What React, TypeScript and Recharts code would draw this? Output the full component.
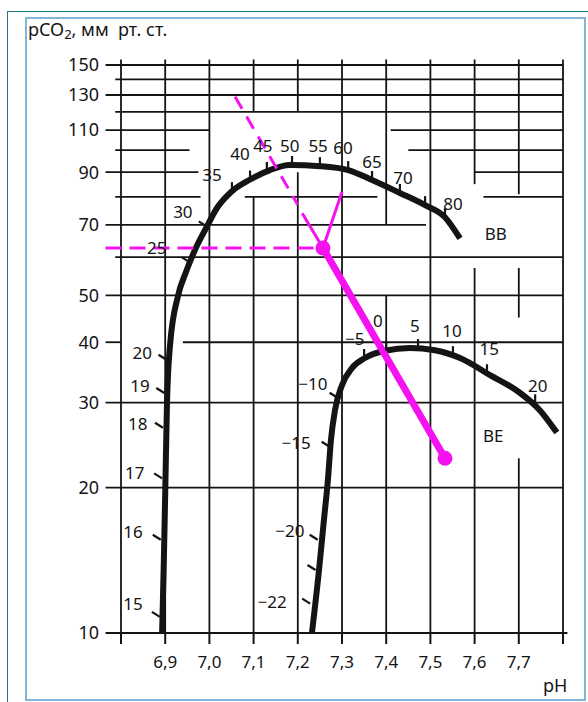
import {
  ComposedChart,
  Line,
  Scatter,
  XAxis,
  YAxis,
  ReferenceLine,
} from "recharts";

// pH axis and pCO2 axis ticks
const phTicks = [6.8, 6.9, 7.0, 7.1, 7.2, 7.3, 7.4, 7.5, 7.6, 7.7, 7.8];
const pco2Ticks = [10, 20, 30, 40, 50, 70, 90, 110, 130, 150];

// horizontal grid pieces: pCO2 level, pH from, pH to
const hGrid = [
  [150, 6.765, 7.8],
  [140, 6.787, 7.8],
  [130, 6.765, 7.8],
  [120, 6.787, 7.8],
  [110, 6.765, 7.0],
  [110, 7.41, 7.8],
  [100, 6.787, 6.955],
  [100, 7.45, 7.8],
  [90, 6.765, 6.975],
  [90, 7.6, 7.8],
  [80, 6.787, 6.98],
  [80, 7.08, 7.38],
  [80, 7.62, 7.8],
  [70, 6.765, 7.49],
  [60, 6.787, 7.8],
  [50, 6.765, 7.8],
  [40, 6.765, 6.8],
  [40, 6.94, 7.8],
  [30, 6.765, 7.8],
  [20, 6.765, 7.8],
  [10, 6.765, 7.81],
];

// vertical grid pieces: pH, pCO2 from, pCO2 to
const vGrid = [
  [6.8, 10, 154],
  [6.9, 10, 154],
  [7.0, 10, 154],
  [7.1, 120, 154],
  [7.1, 10, 80],
  [7.2, 120, 154],
  [7.2, 10, 90],
  [7.3, 10, 154],
  [7.4, 70, 154],
  [7.4, 10, 50],
  [7.5, 10, 154],
  [7.6, 85, 154],
  [7.6, 10, 57],
  [7.7, 81, 154],
  [7.7, 45, 57],
  [7.7, 10, 23],
  [7.8, 10, 154],
];

// buffer base curve
const bbCurve = [
  { ph: 6.893, pco2: 10 },
  { ph: 6.897, pco2: 14.2 },
  { ph: 6.9, pco2: 19.4 },
  { ph: 6.904, pco2: 29.8 },
  { ph: 6.911, pco2: 39.5 },
  { ph: 6.929, pco2: 49.9 },
  { ph: 6.947, pco2: 55.9 },
  { ph: 6.967, pco2: 62.0 },
  { ph: 6.992, pco2: 68.8 },
  { ph: 7.019, pco2: 76.3 },
  { ph: 7.051, pco2: 82.2 },
  { ph: 7.092, pco2: 86.9 },
  { ph: 7.137, pco2: 90.9 },
  { ph: 7.182, pco2: 93.1 },
  { ph: 7.25, pco2: 92.6 },
  { ph: 7.314, pco2: 90.9 },
  { ph: 7.368, pco2: 86.7 },
  { ph: 7.431, pco2: 81.5 },
  { ph: 7.488, pco2: 76.9 },
  { ph: 7.533, pco2: 72.6 },
  { ph: 7.567, pco2: 65.6 },
];

// base excess curve
const beCurve = [
  { ph: 7.232, pco2: 10 },
  { ph: 7.248, pco2: 13.5 },
  { ph: 7.259, pco2: 17.1 },
  { ph: 7.268, pco2: 20.7 },
  { ph: 7.275, pco2: 25.1 },
  { ph: 7.284, pco2: 28.9 },
  { ph: 7.3, pco2: 32.6 },
  { ph: 7.323, pco2: 35.4 },
  { ph: 7.352, pco2: 37.1 },
  { ph: 7.397, pco2: 38.4 },
  { ph: 7.454, pco2: 38.9 },
  { ph: 7.51, pco2: 38.5 },
  { ph: 7.567, pco2: 37.1 },
  { ph: 7.635, pco2: 34.2 },
  { ph: 7.703, pco2: 31.4 },
  { ph: 7.748, pco2: 28.9 },
  { ph: 7.786, pco2: 26.0 },
];

// scale marks on the curves (side: l = hook to the left, u = up)
const bbTicks = [
  { ph: 6.888, pco2: 10.8, side: "l" },
  { ph: 6.89, pco2: 15.6, side: "l" },
  { ph: 6.893, pco2: 20.9, side: "l" },
  { ph: 6.895, pco2: 26.6, side: "l" },
  { ph: 6.898, pco2: 31.4, side: "l" },
  { ph: 6.903, pco2: 36.8, side: "l" },
  { ph: 6.955, pco2: 58.6, side: "l" },
  { ph: 6.994, pco2: 69.5, side: "l" },
  { ph: 7.051, pco2: 82.2, side: "u" },
  { ph: 7.092, pco2: 86.9, side: "u" },
  { ph: 7.13, pco2: 90.5, side: "u" },
  { ph: 7.187, pco2: 93.1, side: "u" },
  { ph: 7.25, pco2: 92.6, side: "u" },
  { ph: 7.314, pco2: 90.9, side: "u" },
  { ph: 7.368, pco2: 86.7, side: "u" },
  { ph: 7.431, pco2: 81.5, side: "u" },
  { ph: 7.488, pco2: 76.9, side: "u" },
  { ph: 7.533, pco2: 72.6, side: "u" },
];

const beTicks = [
  { ph: 7.228, pco2: 11.5, side: "l" },
  { ph: 7.24, pco2: 13.5, side: "l" },
  { ph: 7.245, pco2: 15.6, side: "l" },
  { ph: 7.272, pco2: 24.3, side: "l" },
  { ph: 7.29, pco2: 30.7, side: "l" },
  { ph: 7.35, pco2: 37.1, side: "u" },
  { ph: 7.4, pco2: 38.4, side: "u" },
  { ph: 7.472, pco2: 38.9, side: "u" },
  { ph: 7.551, pco2: 37.6, side: "u" },
  { ph: 7.628, pco2: 34.5, side: "u" },
  { ph: 7.737, pco2: 29.9, side: "u" },
];

const bbLabels = [
  { ph: 6.827, pco2: 11.5, text: "15" },
  { ph: 6.827, pco2: 16.2, text: "16" },
  { ph: 6.831, pco2: 21.5, text: "17" },
  { ph: 6.838, pco2: 27.2, text: "18" },
  { ph: 6.843, pco2: 32.6, text: "19" },
  { ph: 6.848, pco2: 38.1, text: "20" },
  { ph: 6.881, pco2: 62.7, text: "25" },
  { ph: 6.94, pco2: 74.5, text: "30" },
  { ph: 7.006, pco2: 88.9, text: "35" },
  { ph: 7.069, pco2: 98.6, text: "40" },
  { ph: 7.121, pco2: 102.4, text: "45" },
  { ph: 7.182, pco2: 102.4, text: "50" },
  { ph: 7.246, pco2: 102.4, text: "55" },
  { ph: 7.302, pco2: 101, text: "60" },
  { ph: 7.368, pco2: 94.5, text: "65" },
  { ph: 7.438, pco2: 87.6, text: "70" },
  { ph: 7.551, pco2: 77.6, text: "80" },
  { ph: 7.648, pco2: 67.3, text: "BB" },
];

const beLabels = [
  { ph: 7.142, pco2: 11.6, text: "\u221222" },
  { ph: 7.182, pco2: 16.3, text: "\u221220" },
  { ph: 7.196, pco2: 24.8, text: "\u221215" },
  { ph: 7.234, pco2: 32.9, text: "\u221210" },
  { ph: 7.329, pco2: 40.8, text: "\u22125" },
  { ph: 7.381, pco2: 44.4, text: "0" },
  { ph: 7.465, pco2: 43.4, text: "5" },
  { ph: 7.549, pco2: 42.4, text: "10" },
  { ph: 7.633, pco2: 38.9, text: "15" },
  { ph: 7.743, pco2: 32.6, text: "20" },
  { ph: 7.642, pco2: 25.7, text: "BE" },
];

// the worked example in magenta
const guideLevel = 62.7;
const guideFrom = 6.765;
const sample = { ph: 7.257, pco2: 62.7 };
const dashedSlope = [
  { ph: 7.058, pco2: 129 },
  { ph: 7.2, pco2: 77 },
];
const arrowLeft = [
  { ph: 7.21, pco2: 74 },
  { ph: 7.257, pco2: 62.7 },
];
const arrowRight = [
  { ph: 7.3, pco2: 82 },
  { ph: 7.257, pco2: 62.7 },
];
const equilibrationLine = [
  { ph: 7.257, pco2: 62.7 },
  { ph: 7.533, pco2: 23.0 },
];

const INK = "#141414";
const MAGENTA = "#f512f0";
const FONT = "'Noto Sans', 'Open Sans', sans-serif";

const TickMark = (props: any) => {
  const { cx, cy, payload } = props;
  if (payload.side === "l") {
    return <line x1={cx} y1={cy} x2={cx - 8} y2={cy - 5} stroke={INK} strokeWidth={2.2} />;
  }
  return <line x1={cx} y1={cy} x2={cx} y2={cy - 9} stroke={INK} strokeWidth={2.2} />;
};

const TextMark = (props: any) => {
  const { cx, cy, payload } = props;
  return (
    <text
      x={cx}
      y={cy}
      textAnchor="middle"
      dominantBaseline="central"
      fontFamily={FONT}
      fontSize={17}
      fill={INK}
    >
      {payload.text}
    </text>
  );
};

const Dot = (props: any) => {
  const { cx, cy, index } = props;
  return <circle key={index} cx={cx} cy={cy} r={7.5} fill={MAGENTA} />;
};

export default function App() {
  return (
    <div
      style={{
        position: "absolute",
        left: 0,
        top: 0,
        width: 588,
        height: 702,
        background: "#fff",
        fontFamily: FONT,
        overflow: "hidden",
      }}
    >
      {/* outer teal frame */}
      <div
        style={{
          position: "absolute",
          left: 7,
          top: 11,
          width: 600,
          height: 700,
          borderLeft: "1.5px solid #1d7a80",
          borderTop: "1.5px solid #1d7a80",
        }}
      />
      {/* inner frame */}
      <div
        style={{
          position: "absolute",
          left: 25,
          top: 17,
          width: 557,
          height: 680,
          border: "2px solid #82b6d6",
        }}
      />
      <div
        style={{
          position: "absolute",
          left: 28,
          top: 17,
          fontSize: 18,
          color: INK,
          whiteSpace: "pre",
        }}
      >
        pCO<sub style={{ fontSize: 13, verticalAlign: "-3px" }}>2</sub>, мм  рт. ст.
      </div>
      <div
        style={{
          position: "absolute",
          left: 543,
          top: 673,
          fontSize: 18,
          color: INK,
        }}
      >
        pH
      </div>

      <div style={{ position: "absolute", left: 0, top: 0 }}>
        <ComposedChart
          width={588}
          height={702}
          margin={{ top: 65, right: 25, bottom: 29, left: 0 }}
        >
          <XAxis
            dataKey="ph"
            type="number"
            domain={[6.8, 7.8]}
            allowDataOverflow
            ticks={phTicks}
            tickFormatter={(v: number) =>
              v === 6.8 || v === 7.8 ? "" : v.toFixed(1).replace(".", ",")
            }
            axisLine={false}
            tickLine={{ stroke: INK, strokeWidth: 2 }}
            tickSize={11}
            tickMargin={12}
            height={40}
            tick={{ fill: INK, fontSize: 17, fontFamily: FONT }}
          />
          <YAxis
            type="number"
            scale="log"
            domain={[10, 150]}
            allowDataOverflow
            ticks={pco2Ticks}
            axisLine={false}
            tickLine={false}
            tickSize={14}
            tickMargin={8}
            width={121}
            tick={{ fill: INK, fontSize: 18, fontFamily: FONT }}
          />

          {hGrid.map(([p, a, b], i) => (
            <ReferenceLine
              key={"h" + i}
              segment={[
                { x: a, y: p },
                { x: b, y: p },
              ]}
              ifOverflow="visible"
              stroke={INK}
              strokeWidth={1.8}
            />
          ))}
          {vGrid.map(([x, a, b], i) => (
            <ReferenceLine
              key={"v" + i}
              segment={[
                { x, y: a },
                { x, y: b },
              ]}
              ifOverflow="visible"
              stroke={INK}
              strokeWidth={1.8}
            />
          ))}

          <Line
            data={bbCurve}
            dataKey="pco2"
            type="monotone"
            stroke={INK}
            strokeWidth={6}
            dot={false}
            isAnimationActive={false}
          />
          <Line
            data={beCurve}
            dataKey="pco2"
            type="monotone"
            stroke={INK}
            strokeWidth={6}
            dot={false}
            isAnimationActive={false}
          />
          <Scatter data={bbTicks} dataKey="pco2" shape={TickMark} isAnimationActive={false} />
          <Scatter data={beTicks} dataKey="pco2" shape={TickMark} isAnimationActive={false} />
          <Scatter data={bbLabels} dataKey="pco2" shape={TextMark} isAnimationActive={false} />
          <Scatter data={beLabels} dataKey="pco2" shape={TextMark} isAnimationActive={false} />

          <ReferenceLine
            segment={[
              { x: guideFrom, y: guideLevel },
              { x: sample.ph, y: guideLevel },
            ]}
            ifOverflow="visible"
            stroke={MAGENTA}
            strokeWidth={3}
            strokeDasharray="16 8"
          />
          <Line
            data={dashedSlope}
            dataKey="pco2"
            type="linear"
            stroke={MAGENTA}
            strokeWidth={3}
            strokeDasharray="14 9"
            dot={false}
            isAnimationActive={false}
          />
          <Line
            data={arrowLeft}
            dataKey="pco2"
            type="linear"
            stroke={MAGENTA}
            strokeWidth={3}
            dot={false}
            isAnimationActive={false}
          />
          <Line
            data={arrowRight}
            dataKey="pco2"
            type="linear"
            stroke={MAGENTA}
            strokeWidth={3}
            dot={false}
            isAnimationActive={false}
          />
          <Line
            data={equilibrationLine}
            dataKey="pco2"
            type="linear"
            stroke={MAGENTA}
            strokeWidth={7}
            dot={Dot}
            isAnimationActive={false}
          />
        </ComposedChart>
      </div>
    </div>
  );
}
